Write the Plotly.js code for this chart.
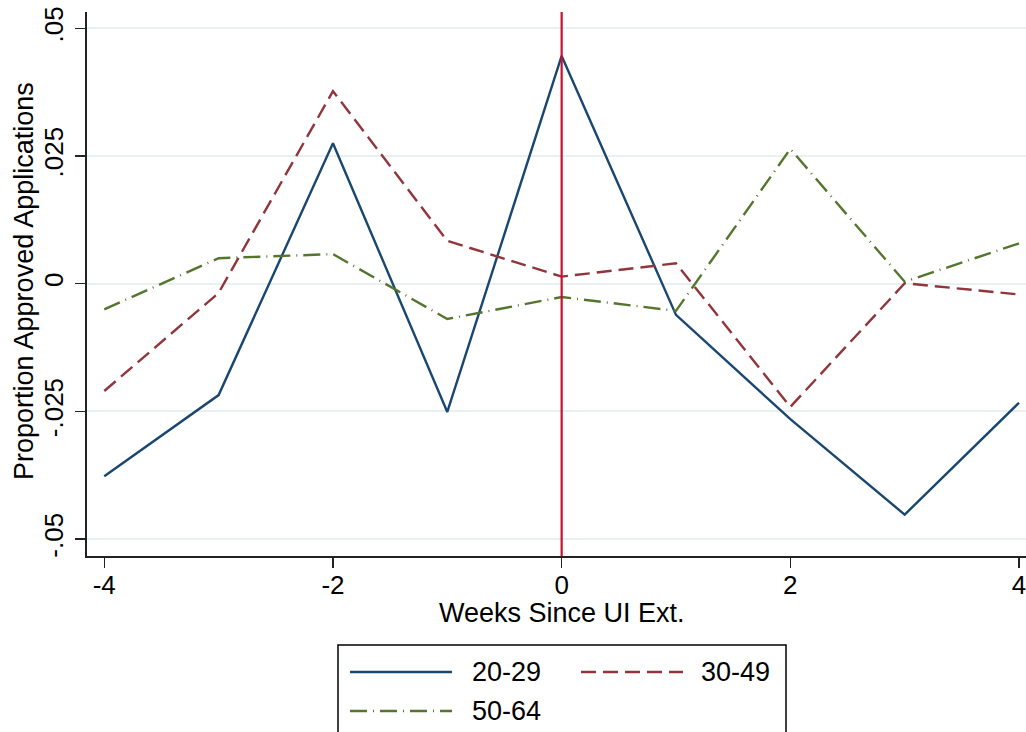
<!DOCTYPE html>
<html>
<head>
<meta charset="utf-8">
<script src="https://cdn.plot.ly/plotly-3.0.1.min.js"></script>
<style>
  html, body { margin: 0; padding: 0; background: #ffffff; }
  #chart { width: 1026px; height: 732px; }
</style>
</head>
<body>
<div id="chart"></div>
<script>
// Weeks relative to the UI extension
const weeks = [-4, -3, -2, -1, 0, 1, 2, 3, 4];

// Age-group series
const seriesNames = ['20-29', '30-49', '50-64'];
const age20to29 = [-0.0377, -0.0218, 0.0275, -0.0251, 0.0446, -0.0061, -0.0265, -0.0452, -0.0233];
const age30to49 = [-0.0210, -0.0018, 0.0377, 0.0084, 0.0014, 0.0040, -0.0241, 0.0001, -0.0021];
const age50to64 = [-0.0050, 0.0050, 0.0058, -0.0069, -0.0026, -0.0053, 0.0264, 0.0004, 0.0079];

// Axis ticks
const xTickVals = [-4, -2, 0, 2, 4];
const xTickText = ['-4', '-2', '0', '2', '4'];
const yTickVals = [-0.05, -0.025, 0, 0.025, 0.05];
const yTickText = ['-.05', '-.025', '0', '.025', '.05'];

const xTitle = 'Weeks Since UI Ext.';
const yTitle = 'Proportion Approved Applications';
const eventWeek = 0;

const FONT = '"Liberation Sans", Arial, Helvetica, sans-serif';
const W = 1026, H = 732;
const M = { l: 87, r: 0, t: 12, b: 176 };
const plotW = W - M.l - M.r, plotH = H - M.t - M.b;

// pixel position -> paper coordinate (for legend / title placement)
const px = x => (x - M.l) / plotW;
const py = y => (H - M.b - y) / plotH;

const styles = [
  { color: '#1a476f', dash: 'solid' },
  { color: '#90353b', dash: '15px,7px' },
  { color: '#55752f', dash: '17px,6px,1px,6px' }
];
const values = [age20to29, age30to49, age50to64];

const traces = values.map((v, i) => ({
  x: weeks,
  y: v,
  type: 'scatter',
  mode: 'lines',
  name: seriesNames[i],
  line: { color: styles[i].color, width: 2.4, dash: styles[i].dash },
  showlegend: false,
  hoverinfo: 'x+y+name'
}));

// Boxed legend drawn below the plot
const legendRows = [
  { sx: 350, tx: 470, y: 672 },
  { sx: 581, tx: 699, y: 672 },
  { sx: 350, tx: 470, y: 711 }
];
const shapes = [
  {
    type: 'line', xref: 'x', yref: 'paper',
    x0: eventWeek, x1: eventWeek, y0: 0, y1: 1,
    line: { color: '#c8102e', width: 2.2 }, layer: 'above'
  },
  {
    type: 'rect', xref: 'paper', yref: 'paper',
    x0: px(338), x1: px(786), y0: py(645), y1: py(760),
    line: { color: '#000000', width: 1.5 }, fillcolor: 'rgba(0,0,0,0)'
  }
];
const annotations = [
  {
    text: xTitle, xref: 'paper', yref: 'paper',
    x: px(561.5), y: py(613), xanchor: 'center', yanchor: 'middle',
    showarrow: false, font: { family: FONT, size: 27, color: '#000000' }
  },
  {
    text: yTitle, xref: 'paper', yref: 'paper',
    x: px(24), y: py(281), xanchor: 'center', yanchor: 'middle', textangle: -90,
    showarrow: false, font: { family: FONT, size: 27, color: '#000000' }
  }
];
legendRows.forEach((r, i) => {
  shapes.push({
    type: 'line', xref: 'paper', yref: 'paper',
    x0: px(r.sx), x1: px(r.sx + 102), y0: py(r.y), y1: py(r.y),
    line: { color: styles[i].color, width: 2.4, dash: styles[i].dash }
  });
  annotations.push({
    text: seriesNames[i], xref: 'paper', yref: 'paper',
    x: px(r.tx), y: py(r.y), xanchor: 'left', yanchor: 'middle',
    showarrow: false, font: { family: FONT, size: 27, color: '#000000' }
  });
});

const layout = {
  width: W, height: H,
  margin: M,
  paper_bgcolor: '#ffffff',
  plot_bgcolor: '#ffffff',
  font: { family: FONT, size: 26, color: '#000000' },
  showlegend: false,
  xaxis: {
    range: [-4.151, 4.061],
    tickvals: xTickVals, ticktext: xTickText,
    ticks: 'outside', ticklen: 10, tickwidth: 1.5, tickcolor: '#222222',
    ticklabeloverflow: 'allow', ticklabelstandoff: -5,
    showline: true, linecolor: '#222222', linewidth: 2,
    showgrid: false, zeroline: false,
    tickfont: { family: FONT, size: 26, color: '#000000' }
  },
  yaxis: {
    range: [-0.0533, 0.0532],
    tickvals: yTickVals, ticktext: yTickText,
    tickangle: -90,
    ticks: 'outside', ticklen: 10, tickwidth: 1.5, tickcolor: '#222222',
    ticklabeloverflow: 'allow', ticklabelstandoff: 2,
    showline: true, linecolor: '#222222', linewidth: 2,
    showgrid: true, gridcolor: '#e9f0f2', gridwidth: 2,
    zeroline: false,
    tickfont: { family: FONT, size: 26, color: '#000000' }
  },
  shapes: shapes,
  annotations: annotations
};

Plotly.newPlot('chart', traces, layout, { displayModeBar: false, staticPlot: true });
</script>
</body>
</html>
